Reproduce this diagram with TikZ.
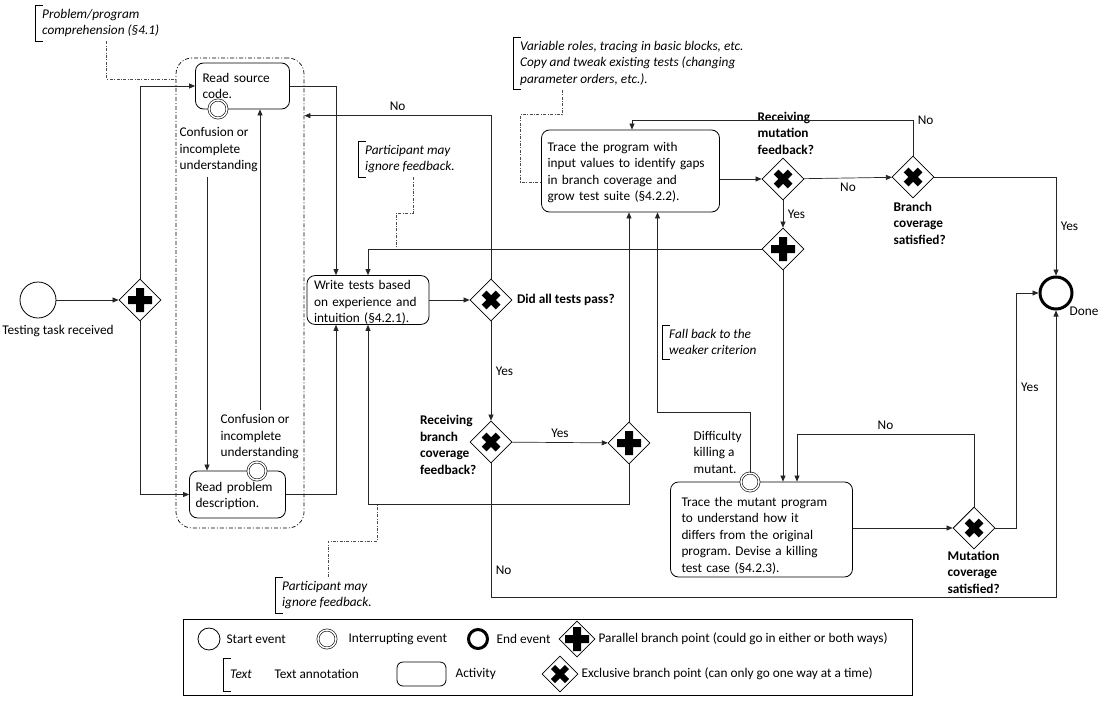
\documentclass[tikz,border=0pt]{standalone}
\usepackage{fontspec}
\setmainfont{Carlito}
\usetikzlibrary{shapes.geometric, arrows.meta, positioning}
\tikzset{flow/.style={-{Triangle[length=6pt,width=5pt]}, line width=0.7pt, draw=black!85}}
\tikzset{assoc/.style={line width=0.6pt, draw=black!70, dash pattern=on 3pt off 1.5pt on 0.8pt off 1.5pt}}
\tikzset{activity/.style={draw, line width=0.8pt, rounded corners=8pt, fill=white, align=left, inner ysep=0pt}}
\tikzset{grp/.style={draw, line width=0.7pt, rounded corners=16pt, dash pattern=on 4pt off 2pt on 1pt off 2pt}}
\tikzset{startev/.style={circle, draw, line width=0.8pt, fill=white, minimum size=#1, inner sep=0pt}, startev/.default=36pt}
\tikzset{endev/.style={circle, draw, line width=3pt, fill=white, minimum size=#1, inner sep=0pt}, endev/.default=32pt}
\tikzset{interev/.style={circle, draw, line width=0.6pt, double=white, double distance=1.5pt, fill=white, minimum size=18pt, inner sep=0pt}}
\tikzset{gw/.style={diamond, draw, line width=0.8pt, fill=white, inner sep=0pt, minimum width=#1, minimum height=#1}}
\tikzset{gpar/.style={gw=#1, path picture={\fill[black, shift={(path picture bounding box.center)}, scale=#1/42] (-12,-4) rectangle (12,4) (-4,-12) rectangle (4,12);}}, gpar/.default=42}
\tikzset{gxor/.style={gw=#1, path picture={\draw[black, line width=#1*0.16, shift={(path picture bounding box.center)}, scale=#1/42] (-7,-7) -- (7,7) (-7,7) -- (7,-7);}}, gxor/.default=42}
\tikzset{bold/.style={font=\bfseries, align=left}}
\tikzset{annot/.style={font=\itshape, align=left, inner xsep=7pt, inner ysep=4pt, anchor=north west}}
\tikzset{bracket/.style={line width=0.7pt}}

\begin{document}
\frenchspacing
\fontsize{13.3}{16.5}\selectfont
\begin{tikzpicture}[x=1pt, y=-1pt]
    \useasboundingbox (0,0) rectangle (1108,701);

    % comprehension group
    \node[grp, minimum width=128pt, minimum height=470pt] (group) at (240,293) {};

    \node[startev] (start) at (38,300) {};
    \node (lstart) at (58,331) {Testing task received};
    \node[gpar] (gpar1) at (140,300) {};

    \node[activity, minimum width=89pt, minimum height=46pt, inner xsep=7pt, text width=80pt] (src) at (242.5,86) {Read source\\code.};
    \node[interev] (iesrc) at (218,109) {};
    \node[align=left, anchor=west] (lconf1) at (175,150) {Confusion or\\incomplete\\understanding};
    \node[activity, minimum width=91pt, minimum height=47pt, inner xsep=6pt, text width=84pt] (prob) at (237.5,494.5) {\rule{0pt}{12pt}Read problem\\description.};
    \node[interev] (ieprob) at (257,471) {};
    \node[align=left, anchor=west] (lconf2) at (216,437) {Confusion or\\incomplete\\understanding};

    \node[activity, minimum width=118pt, minimum height=46pt, inner xsep=7pt, text width=108pt] (write) at (368,300) {\rule{0pt}{14pt}Write tests based\\on experience and\\intuition (§4.2.1).};
    \node[gxor] (gpass) at (491,300) {};
    \node[bold, right=0pt of gpass] (lpass) {Did all tests pass?};
    \node[gxor] (gbfb) at (491,442) {};
    \node[bold, anchor=east] (lbfb) at (481,445) {Receiving\\branch\\coverage\\feedback?};
    \node[gpar] (gpar2) at (629,443) {};
    \coordinate (loopB) at (629,504);

    \node[activity, minimum width=175pt, minimum height=82pt, inner xsep=6pt, text width=166pt] (trace) at (630.5,171) {\rule{0pt}{12pt}Trace the program with\\input values to identify gaps\\in branch coverage and\\grow test suite (§4.2.2).};
    \node[gxor] (gmfb) at (783,179) {};
    \node[bold, anchor=west] (lmfb) at (753,133) {Receiving\\mutation\\feedback?};
    \node[gxor] (gbcs) at (913,177) {};
    \node[bold, anchor=west] (lbcs) at (889,223) {Branch\\coverage\\satisfied?};
    \node[gpar] (gpar3) at (783,249) {};
    \node[endev] (done) at (1056,293) {};
    \node[anchor=north west, inner sep=1pt] (ldone) at (done.south east) {Done};

    \node[activity, minimum width=179pt, minimum height=95pt, inner xsep=11pt, text width=160pt] (mutant) at (761.5,529.5) {\rule{0pt}{21pt}Trace the mutant program\\to understand how it\\differs from the original\\program. Devise a killing\\test case (§4.2.3).};
    \node[interev] (iemut) at (750,482) {};
    \node[align=left, anchor=west] (ldiff) at (689,452) {Difficulty\\killing a\\mutant.};
    \node[gxor] (gmcs) at (974,528) {};
    \node[bold, anchor=west] (lmcs) at (943,572) {Mutation\\coverage\\satisfied?};

    % annotations
    \node[annot] (annA) at (35,5) {Problem/program\\comprehension (§4.1)};
    \node[annot] (annB) at (513,37) {Variable roles, tracing in basic blocks, etc.\\Copy and tweak existing tests (changing\\parameter orders, etc.).};
    \node[annot] (annC) at (358,141) {Participant may\\ignore feedback.};
    \node[annot] (annD) at (275,577) {Participant may\\ignore feedback.};
    \node[annot] (annE) at (662,325) {Fall back to the\\weaker criterion};

    % legend
    \node[draw, line width=0.8pt, minimum width=729pt, minimum height=76pt] (legend) at (547.5,657) {};
    \node[startev=22pt] (kstart) at (209,639) {};
    \node[anchor=west] (tstart) at (222,639) {Start event};
    \node[interev=20pt] (kinter) at (327,639) {};
    \node[anchor=west] (tinter) at (344,639) {Interrupting event};
    \node[endev=19pt] (kend) at (478,639) {};
    \node[anchor=west] (tend) at (492,639) {End event};
    \node[gpar=36] (kpar) at (577,639) {};
    \node[anchor=west] (tpar) at (594,639) {Parallel branch point (could go in either or both ways)};
    \node[annot, minimum height=33pt] (kann) at (223,658) {Text};
    \node[anchor=west] (tann) at (270,674) {Text annotation};
    \node[draw, line width=0.8pt, rounded corners=6pt, minimum width=49pt, minimum height=24pt] (kact) at (421.5,674) {};
    \node[anchor=west] (tact) at (451,674) {Activity};
    \node[gxor=36] (kxor) at (560,674) {};
    \node[anchor=west] (txor) at (577,674) {Exclusive branch point (can only go one way at a time)};

    \foreach \n in {annA,annB,annC,annD,annE,kann}
        \draw[bracket] ([xshift=8pt]\n.north west) -| (\n.south west) -- ++(8,0);

    \draw[assoc] ([xshift=6pt]annA.south) |- ([yshift=7pt]src.west -| group.west);
    \draw[assoc] ([xshift=49pt]annB.south west) -- ++(0,25) -- ++(-42,0) |- ([yshift=-11pt]trace.west);
    \draw[assoc] ([xshift=55pt]annC.south west) -- ++(0,36) -| ([xshift=28pt]write.north |- gpar3.west);
    \draw[assoc] ([xshift=53pt]annD.north west) -- ++(0,-36) -| ([xshift=9pt]write.south |- loopB);

    % flows
    \draw[flow] (start) -- (gpar1);
    \draw[flow] (gpar1.north) |- (src.west);
    \draw[flow] (gpar1.south) |- (prob.west);
    \draw[flow] ([xshift=32pt]lconf1.south west) -- ([xshift=32pt]lconf1.south west |- prob.north);
    \draw[flow] ([xshift=44pt]lconf2.north west) -- ([xshift=44pt]lconf2.north west |- src.south);
    \draw[flow] (src.east) -| ([xshift=-32pt]write.north);
    \draw[flow] (prob.east) -| ([xshift=-32pt]write.south);
    \draw[flow] (write) -- (gpass);
    \draw[flow] (gpass.north) |- ([yshift=-58pt]group.north east) node[pos=0.75, above] {No};
    \draw[flow] (gpass) -- (gbfb) node[midway, right] {Yes};
    \draw[flow] (gbfb) -- (gpar2) node[midway, above] {Yes};
    \draw[flow] (gpar2.south) -- (loopB) -| (write.south);
    \draw[flow] (gpar2.north) -- (gpar2.north |- trace.south);
    \draw[flow] (iemut.north) -- ++(0,-60) -| ([xshift=27pt]trace.south);
    \draw[flow] (gbfb.south) -- ++(0,134) node[pos=0.8, right] {No} -| (done.south);
    \draw[flow] (trace.east |- gmfb.west) -- (gmfb.west);
    \draw[flow] (gmfb) -- (gbcs) node[midway, below] {No};
    \draw[flow] (gmfb) -- (gpar3) node[midway, right] {Yes};
    \draw[flow] (gbcs.north) -- ++(0,-35) node[right] {No} -| ([xshift=1.5pt]trace.north);
    \draw[flow] (gbcs.east) -| (done.north) node[pos=0.75, right] {Yes};
    \draw[flow] (gpar3.west) -| (write.north);
    \draw[flow] (gpar3.south) -- (gpar3.south |- mutant.north);
    \draw[flow] (gmcs.north) -- ++(0,-72) -| ([xshift=35.5pt]mutant.north) node[pos=0.25, above] {No};
    \draw[flow] (mutant.east |- gmcs.west) -- (gmcs.west);
    \draw[flow] (gmcs.east) -- ++(21,0) |- (done.west) node[pos=0.3, right] {Yes};
\end{tikzpicture}
\end{document}
